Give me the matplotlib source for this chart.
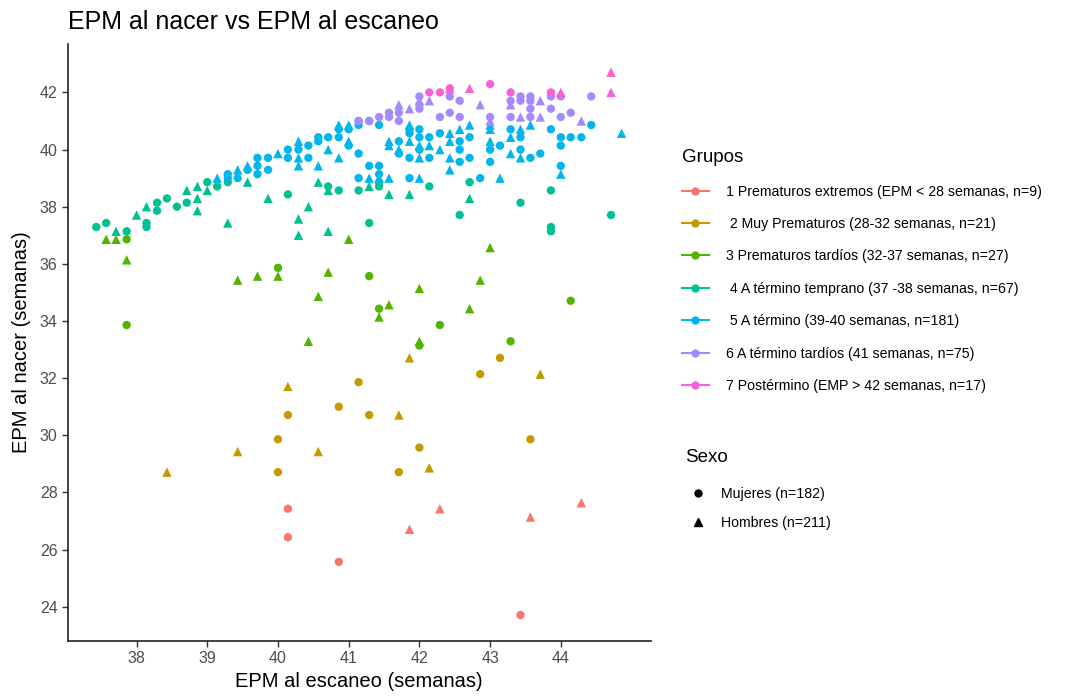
import matplotlib.pyplot as plt
from matplotlib.lines import Line2D

plt.rcParams['font.family'] = ['Liberation Sans', 'DejaVu Sans']

colores = ['#F8766D', '#C49A00', '#53B400', '#00C094', '#00B6EB', '#A58AFF', '#FB61D7']
grupos = ['1 Prematuros extremos (EPM < 28 semanas, n=9)',
          ' 2 Muy Prematuros (28-32 semanas, n=21)',
          '3 Prematuros tardíos (32-37 semanas, n=27)',
          ' 4 A término temprano (37 -38 semanas, n=67)',
          ' 5 A término (39-40 semanas, n=181)',
          '6 A término tardíos (41 semanas, n=75)',
          '7 Postérmino (EMP > 42 semanas, n=17)']

# EPM al escaneo (x), EPM al nacer (y), sexo (M = mujer, H = hombre)
g1_x = [40.14, 40.14, 40.86, 43.43, 41.86, 42.29, 43.57, 44.29]
g1_y = [27.43, 26.43, 25.57, 23.71, 26.71, 27.43, 27.14, 27.64]
g1_s = ['M', 'M', 'M', 'M', 'H', 'H', 'H', 'H']

g2_x = [38.43, 39.43, 40.0, 40.0, 40.57, 40.14, 40.14, 40.86, 41.14, 41.29, 41.71, 41.71,
        41.86, 42.0, 42.14, 42.86, 43.14, 43.71, 43.57]
g2_y = [28.71, 29.43, 29.86, 28.71, 29.43, 31.71, 30.71, 31.0, 31.86, 30.71, 30.71, 28.71,
        32.71, 29.57, 28.86, 32.14, 32.71, 32.14, 29.86]
g2_s = ['H', 'H', 'M', 'M', 'H', 'H', 'M', 'M', 'M', 'M', 'H', 'M',
        'H', 'M', 'H', 'M', 'M', 'H', 'M']

g3_x = [37.57, 37.71, 37.86, 37.86, 37.86, 39.43, 39.71, 40.0, 40.0, 40.71, 40.57, 40.43, 41.0,
        41.29, 41.43, 41.43, 41.57, 42.29, 42.0, 42.0, 42.0, 43.0, 42.86, 42.71, 43.29, 44.14]
g3_y = [36.86, 36.86, 36.86, 36.14, 33.86, 35.43, 35.57, 35.86, 35.57, 35.71, 34.86, 33.29, 36.86,
        35.57, 34.43, 34.14, 34.57, 33.86, 35.14, 33.14, 33.29, 36.57, 35.43, 34.43, 33.29, 34.71]
g3_s = ['H', 'H', 'M', 'H', 'M', 'H', 'H', 'M', 'H', 'H', 'H', 'H', 'H',
        'M', 'M', 'H', 'H', 'M', 'H', 'M', 'H', 'H', 'H', 'H', 'M', 'M']

g4_x = [37.43, 37.57, 37.71, 37.86, 38.0, 38.14, 38.14, 38.14, 38.29, 38.29, 38.43, 38.57,
        38.71, 38.71, 38.86, 38.86, 38.86, 39.0, 39.0, 39.14, 39.29, 39.29, 39.57, 39.86,
        40.14, 40.43, 40.29, 40.29, 40.57, 40.71, 40.71, 40.86, 40.71, 41.14, 41.29, 41.43,
        41.43, 41.57, 41.86, 42.14, 42.71, 42.71, 43.43, 43.86, 42.57, 41.29, 43.86, 43.86, 44.71]
g4_y = [37.29, 37.43, 37.14, 37.14, 37.71, 37.29, 37.43, 38.0, 38.14, 37.86, 38.29, 38.0,
        38.57, 38.14, 38.71, 38.29, 37.86, 38.86, 38.57, 38.71, 38.86, 37.43, 38.86, 38.29,
        38.43, 38.0, 37.57, 37.0, 38.86, 38.57, 38.71, 38.57, 37.14, 38.57, 38.71, 38.86,
        38.71, 38.43, 38.43, 38.71, 38.86, 38.29, 38.14, 38.57, 37.71, 37.43, 37.14, 37.29, 37.71]
g4_s = ['M', 'M', 'H', 'M', 'H', 'M', 'M', 'H', 'M', 'M', 'M', 'M',
        'H', 'M', 'H', 'H', 'H', 'M', 'H', 'M', 'M', 'H', 'H', 'H',
        'M', 'H', 'H', 'H', 'H', 'H', 'M', 'M', 'H', 'M', 'H', 'M',
        'M', 'H', 'H', 'M', 'M', 'H', 'M', 'M', 'M', 'M', 'M', 'M', 'M']

g5_x = [39.14, 39.29, 39.29, 39.43, 39.43, 39.57, 39.57, 39.71, 39.71, 39.71, 39.86, 39.86,
        40.0, 40.14, 40.14, 40.29, 40.29, 40.29, 40.29, 40.43, 40.43, 40.57, 40.57, 40.57,
        40.71, 40.71, 40.86, 40.86, 40.86, 40.86, 41.0, 41.0, 41.0, 41.0,
        41.14, 41.14, 41.14, 41.14, 41.29, 41.29, 41.29, 41.43, 41.43, 41.43, 41.43,
        41.57, 41.57, 41.57, 41.71, 41.71, 41.71,
        41.86, 41.86, 41.86, 41.86, 41.86, 41.86, 42.0, 42.0, 42.0, 42.0, 42.0, 42.0,
        42.14, 42.14, 42.14, 42.29, 42.29, 42.43, 42.43, 42.43, 42.43,
        42.57, 42.57, 42.57, 42.57, 42.71, 42.71, 42.71, 42.86,
        43.0, 43.0, 43.0, 43.0, 43.0, 43.14, 43.14, 43.29, 43.29, 43.29,
        43.43, 43.43, 43.43, 43.43, 43.57, 43.57, 43.71, 43.86,
        44.0, 44.0, 44.0, 44.0, 44.14, 44.29, 44.43, 44.86]
g5_y = [39.0, 39.14, 39.0, 39.29, 39.0, 39.43, 39.29, 39.71, 39.43, 39.14, 39.71, 39.29,
        39.86, 40.0, 39.71, 40.29, 40.0, 39.71, 39.43, 40.14, 39.71, 40.43, 40.29, 39.43,
        40.43, 40.0, 40.86, 40.71, 40.43, 39.71, 40.86, 40.71, 40.29, 40.14,
        41.0, 40.86, 39.86, 39.0, 41.0, 39.43, 39.0, 40.86, 39.43, 39.14, 39.0,
        40.14, 40.29, 39.0, 40.29, 40.0, 39.86,
        40.86, 40.71, 40.57, 40.29, 39.71, 39.0, 40.71, 40.43, 40.14, 40.0, 39.71, 39.0,
        40.43, 40.14, 39.71, 40.57, 40.0, 40.57, 40.29, 39.71, 39.29,
        40.71, 40.29, 40.0, 39.57, 40.86, 40.43, 39.71, 39.0,
        40.86, 40.71, 40.29, 40.0, 39.57, 40.14, 39.0, 40.71, 40.43, 39.86,
        40.71, 40.43, 40.0, 39.71, 40.86, 39.71, 39.86, 40.71,
        40.43, 40.14, 39.43, 39.14, 40.43, 40.43, 40.86, 40.57]
g5_s = ['H', 'M', 'M', 'H', 'M', 'H', 'M', 'M', 'M', 'M', 'M', 'M',
        'H', 'M', 'M', 'H', 'M', 'H', 'H', 'M', 'M', 'M', 'M', 'H',
        'M', 'H', 'H', 'M', 'M', 'H', 'H', 'M', 'H', 'M',
        'M', 'M', 'M', 'M', 'M', 'M', 'H', 'M', 'M', 'M', 'H',
        'H', 'H', 'H', 'M', 'H', 'M',
        'H', 'M', 'M', 'H', 'M', 'M', 'M', 'M', 'H', 'M', 'H', 'H',
        'M', 'H', 'M', 'M', 'H', 'H', 'H', 'H', 'H',
        'H', 'M', 'M', 'M', 'H', 'M', 'M', 'M',
        'H', 'H', 'H', 'M', 'M', 'M', 'H', 'M', 'H', 'H',
        'H', 'M', 'M', 'H', 'H', 'M', 'M', 'M',
        'M', 'M', 'M', 'H', 'M', 'M', 'M', 'H']

g6_x = [41.14, 41.29, 41.43, 41.57, 41.57, 41.71, 41.71, 41.71, 41.86, 42.0, 42.0, 42.0, 42.0,
        42.14, 42.29, 42.43, 42.43, 42.57, 42.57, 42.86, 43.0, 43.0, 43.29, 43.29, 43.29,
        43.43, 43.43, 43.43, 43.57, 43.57, 43.57, 43.57, 43.71, 43.71, 43.86, 43.86,
        44.0, 44.0, 44.14, 44.29, 44.43]
g6_y = [41.0, 41.0, 41.14, 41.29, 41.14, 41.57, 41.29, 41.0, 41.43, 41.86, 41.71, 41.57, 41.43,
        41.71, 41.14, 41.86, 41.29, 41.71, 41.14, 41.57, 41.14, 41.0, 41.71, 41.57, 41.14,
        41.86, 41.71, 41.14, 41.86, 41.71, 41.43, 41.14, 41.71, 41.14, 41.86, 41.43,
        41.86, 41.14, 41.29, 41.0, 41.86]
g6_s = ['M', 'M', 'M', 'M', 'M', 'H', 'M', 'M', 'H', 'M', 'H', 'M', 'M',
        'H', 'M', 'M', 'M', 'M', 'M', 'H', 'M', 'H', 'M', 'H', 'M',
        'M', 'M', 'H', 'M', 'M', 'M', 'M', 'H', 'H', 'M', 'M',
        'M', 'M', 'M', 'H', 'M']

g7_x = [42.14, 42.29, 42.43, 42.43, 42.71, 43.0, 43.29, 43.86, 44.0, 44.71, 44.71]
g7_y = [42.0, 42.0, 42.14, 42.14, 42.14, 42.29, 42.0, 42.0, 42.0, 42.71, 42.0]
g7_s = ['M', 'M', 'M', 'H', 'H', 'M', 'M', 'M', 'H', 'H', 'H']

datos = [(g1_x, g1_y, g1_s), (g2_x, g2_y, g2_s), (g3_x, g3_y, g3_s), (g4_x, g4_y, g4_s),
         (g5_x, g5_y, g5_s), (g6_x, g6_y, g6_s), (g7_x, g7_y, g7_s)]

fig = plt.figure(figsize=(10.69, 6.96), dpi=100)
ax = fig.add_axes([0.0636, 0.079, 0.545, 0.858])

for (xs, ys, ss), c in zip(datos, colores):
    xm = [x for x, s in zip(xs, ss) if s == 'M']
    ym = [y for y, s in zip(ys, ss) if s == 'M']
    xh = [x for x, s in zip(xs, ss) if s == 'H']
    yh = [y for y, s in zip(ys, ss) if s == 'H']
    ax.scatter(xm, ym, s=36, marker='o', color=c, edgecolors='none')
    ax.scatter(xh, yh, s=46, marker='^', color=c, edgecolors='none')

ax.set_xlim(37.03, 45.27)
ax.set_ylim(22.8, 43.7)
ax.set_xticks([38, 39, 40, 41, 42, 43, 44])
ax.set_yticks([24, 26, 28, 30, 32, 34, 36, 38, 40, 42])
ax.spines['top'].set_visible(False)
ax.spines['right'].set_visible(False)
for sp in ['left', 'bottom']:
    ax.spines[sp].set_linewidth(1.2)
    ax.spines[sp].set_color('#222222')
ax.tick_params(colors='#333333', labelcolor='#4D4D4D', labelsize=11.5, length=4, width=1)

ax.set_xlabel('EPM al escaneo (semanas)', fontsize=14.5, labelpad=4)
ax.set_ylabel('EPM al nacer (semanas)', fontsize=14.5, labelpad=6)
fig.text(0.064, 0.958, 'EPM al nacer vs EPM al escaneo', fontsize=18, ha='left', va='baseline')

h_grupos = [Line2D([0], [0], color=c, marker='o', markersize=5, lw=1.5) for c in colores]
leg1 = ax.legend(h_grupos, grupos, title='Grupos', loc='upper left',
                 bbox_to_anchor=(0.626, 0.804), bbox_transform=fig.transFigure,
                 frameon=False, fontsize=10.2, title_fontsize=13.5, alignment='left',
                 labelspacing=1.3, handlelength=1.9, handletextpad=1.2)
ax.add_artist(leg1)

fig.text(0.641, 0.342, 'Sexo', fontsize=13.5, ha='left', va='center')
h_sexo = [Line2D([0], [0], color='black', marker='o', markersize=5, lw=0),
          Line2D([0], [0], color='black', marker='^', markersize=6, lw=0)]
ax.legend(h_sexo, ['Mujeres (n=182)', 'Hombres (n=211)'], loc='upper left',
          bbox_to_anchor=(0.633, 0.318), bbox_transform=fig.transFigure,
          frameon=False, fontsize=10.2, labelspacing=1.0,
          handlelength=1.2, handletextpad=1.0)

plt.savefig('out.png', dpi=100)
